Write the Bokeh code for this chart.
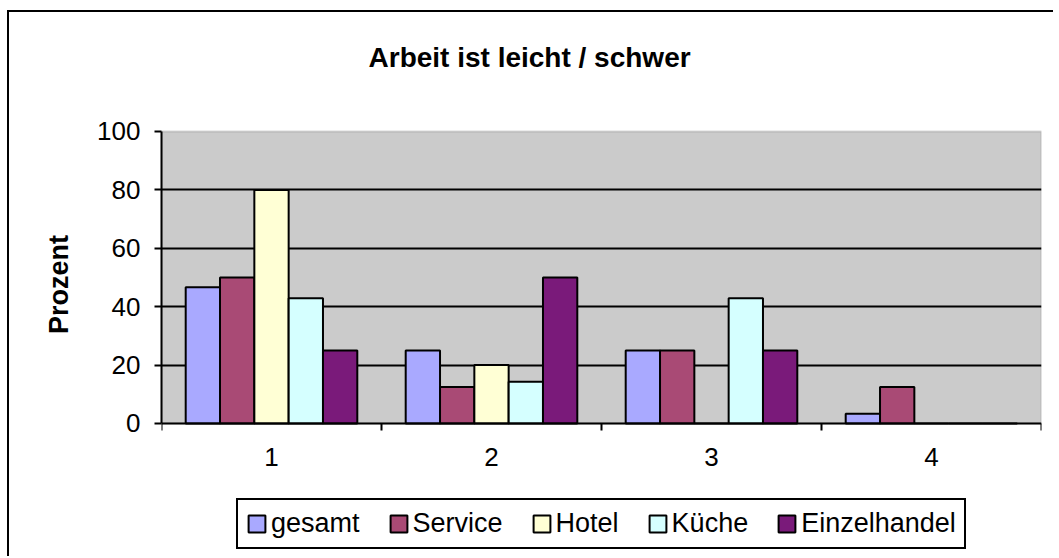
from bokeh.plotting import figure
from bokeh.models import (FixedTicker, Legend, LegendItem, Range1d, ColumnDataSource,
                          BoxAnnotation, Label)
from bokeh.embed import file_html
from bokeh.resources import INLINE

# ---- data ----
categories = [1, 2, 3, 4]
series_names = ["gesamt", "Service", "Hotel", "Küche", "Einzelhandel"]
gesamt = [46.7, 25.0, 25.0, 3.3]
service = [50.0, 12.5, 25.0, 12.5]
hotel = [80.0, 20.0, 0.0, 0.0]
kueche = [42.9, 14.3, 42.9, 0.0]
einzelhandel = [25.0, 50.0, 25.0, 0.0]
y_ticks = [0, 20, 40, 60, 80, 100]
title_text = "Arbeit ist leicht / schwer"
y_label = "Prozent"

series_values = [gesamt, service, hotel, kueche, einzelhandel]
colors = ["#A9A9FF", "#A94A75", "#FFFFD5", "#D5FFFF", "#7A1A7A"]

FONT = "Liberation Sans"

p = figure(frame_width=880, frame_height=544, output_backend="svg", toolbar_location=None,
           x_range=Range1d(0.5, 4.5), y_range=Range1d(-45.55, 140.75),
           min_border_left=152, min_border_right=12, min_border_top=0, min_border_bottom=0)
p.styles = {"border-left": "2px solid black", "border-top": "2px solid black",
            "margin-left": "7px", "margin-top": "10px"}

p.background_fill_color = "white"
p.border_fill_color = "white"
p.outline_line_color = None

# gray plot area (value range 0..100)
p.add_layout(BoxAnnotation(left=0.5, right=4.5, bottom=y_ticks[0], top=y_ticks[-1],
                           fill_color="#CBCBCB", fill_alpha=1,
                           line_color="#808080", line_width=2, level="image"))

bar_w = 0.156
offsets = [-2 * bar_w, -bar_w, 0.0, bar_w, 2 * bar_w]
renderers = []
for name, vals, col, off in zip(series_names, series_values, colors, offsets):
    src = ColumnDataSource(dict(x=[c + off for c in categories], top=vals))
    r = p.vbar(x="x", top="top", bottom=0, width=bar_w, source=src,
               fill_color=col, line_color="black", line_width=2)
    renderers.append((name, r))

# grid
p.xgrid.visible = False
p.ygrid.ticker = FixedTicker(ticks=[20, 40, 60, 80])
p.ygrid.grid_line_color = "black"
p.ygrid.grid_line_width = 2

# y axis
ya = p.yaxis[0]
ya.ticker = FixedTicker(ticks=y_ticks)
ya.bounds = (0, 100)
ya.axis_line_color = "black"
ya.axis_line_width = 2
ya.major_tick_line_color = "black"
ya.major_tick_line_width = 2
ya.major_tick_out = 7
ya.major_tick_in = 0
ya.minor_tick_line_color = None
ya.major_label_text_font = FONT
ya.major_label_text_font_size = "26px"
ya.major_label_text_color = "black"
ya.major_label_standoff = 14
ya.axis_label = y_label
ya.axis_label_text_font = FONT
ya.axis_label_text_font_style = "bold"
ya.axis_label_text_font_size = "27px"
ya.axis_label_text_color = "black"
ya.axis_label_standoff = 20

# x axis (drawn at value 0)
xa = p.xaxis[0]
xa.fixed_location = 0
xa.ticker = FixedTicker(ticks=categories, minor_ticks=[0.5, 1.5, 2.5, 3.5, 4.5])
xa.axis_line_color = "black"
xa.axis_line_width = 2
xa.major_tick_line_color = None
xa.minor_tick_line_color = "black"
xa.minor_tick_line_width = 2
xa.minor_tick_out = 7
xa.minor_tick_in = 0
xa.major_label_text_font = FONT
xa.major_label_text_font_size = "26px"
xa.major_label_text_color = "black"
xa.major_label_standoff = 18

# title
p.add_layout(Label(x=2.173, y=125.3, text=title_text, text_align="center",
                   text_baseline="middle", text_font=FONT, text_font_style="bold",
                   text_font_size="28px", text_color="black"))

# legend
legend = Legend(items=[LegendItem(label=n, renderers=[r]) for n, r in renderers],
                orientation="horizontal", location=(75, 7),
                border_line_color="black", border_line_width=2, border_line_alpha=1,
                background_fill_color="white", background_fill_alpha=1,
                label_text_font=FONT, label_text_font_size="27px", label_text_color="black",
                glyph_width=21, glyph_height=21, label_standoff=4, spacing=28,
                padding=8, margin=0, label_height=30)
p.add_layout(legend, "center")

open("out.html", "w").write(file_html(p, INLINE))
